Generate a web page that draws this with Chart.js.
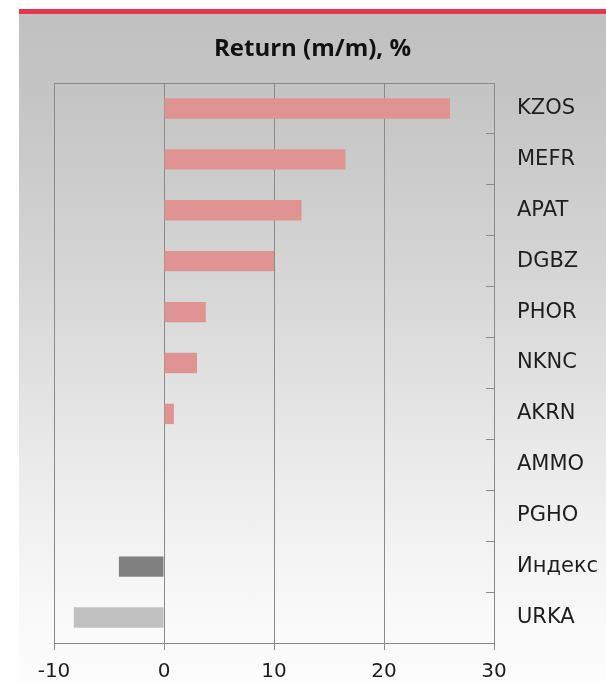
<!DOCTYPE html>
<html>
<head>
<meta charset="utf-8">
<script src="https://cdn.jsdelivr.net/npm/chart.js@4"></script>
<style>
  html, body { margin: 0; padding: 0; background: #fff; }
  #wrap { position: relative; width: 606px; height: 682px; overflow: hidden; }
  #panel {
    position: absolute; left: 19px; top: 9px; width: 587px; height: 668px;
    border-top: 5px solid #e8364c;
    background: linear-gradient(to bottom, #c0c0c0 0%, #c6c6c6 15%, #d6d6d6 40%, #e9e9e9 65%, #f8f8f8 88%, #fdfdfd 100%);
  }
  #chart { position: absolute; left: 0; top: 0; }
</style>
</head>
<body>
<div id="wrap">
  <div id="panel"></div>
  <canvas id="chart" width="606" height="682"></canvas>
</div>
<script>
// ── Data ────────────────────────────────────────────────────────
var tickers = ["KZOS", "MEFR", "APAT", "DGBZ", "PHOR", "NKNC", "AKRN", "AMMO", "PGHO", "Индекс", "URKA"];
var returns = [26.0, 16.5, 12.5, 10.0, 3.8, 3.0, 0.9, 0, 0, -4.1, -8.2];
var xTicks = [-10, 0, 10, 20, 30];
var indexLabel = "Индекс";

// ── Styles ──────────────────────────────────────────────────────
var GRID = "#8a8a8a";
var TEXT = "#1e1e1e";

function barColor(ctx) {
  var label = ctx.chart.data.labels[ctx.dataIndex];
  if (label === indexLabel) return "#808080";
  if (ctx.raw < 0) return "#c0c0c0";
  return "#df9493";
}

new Chart(document.getElementById("chart"), {
  type: "bar",
  data: {
    labels: tickers,
    datasets: [{
      data: returns,
      backgroundColor: barColor,
      borderWidth: 0,
      barPercentage: 0.4,
      categoryPercentage: 1
    }]
  },
  options: {
    indexAxis: "y",
    responsive: false,
    animation: false,
    layout: { padding: { left: 19, right: 0, top: 0, bottom: 0 } },
    plugins: {
      legend: { display: false },
      tooltip: { enabled: false },
      title: {
        display: true,
        text: "Return (m/m), %",
        color: "#111",
        font: { family: "Open Sans", size: 24, weight: "bold" },
        padding: { top: 34.6, bottom: 19.6 }
      }
    },
    scales: {
      x: {
        min: xTicks[0],
        max: xTicks[xTicks.length - 1],
        afterBuildTicks: function(scale) {
          scale.ticks = xTicks.map(function(v) { return { value: v }; });
        },
        afterFit: function(scale) {
          scale.paddingLeft = 54;
          scale.height = 39;
        },
        ticks: {
          color: TEXT,
          padding: 12,
          font: { family: "DejaVu Sans", size: 20, lineHeight: 1 }
        },
        grid: { color: GRID, tickColor: GRID, tickLength: 7, lineWidth: 1 },
        border: { display: true, color: GRID }
      },
      y: {
        position: "right",
        afterFit: function(scale) {
          scale.width = 112;
          scale.paddingTop = 0;
          scale.paddingBottom = 0;
        },
        ticks: {
          color: TEXT,
          padding: 31,
          crossAlign: "near",
          font: { family: "DejaVu Sans", size: 21 }
        },
        grid: {
          offset: true,
          drawOnChartArea: true,
          color: function(ctx) { return ctx.index === 0 ? GRID : "rgba(0,0,0,0)"; },
          tickColor: GRID,
          tickLength: -8,
          lineWidth: 1
        },
        border: { display: true, color: GRID }
      }
    }
  }
});
</script>
</body>
</html>
